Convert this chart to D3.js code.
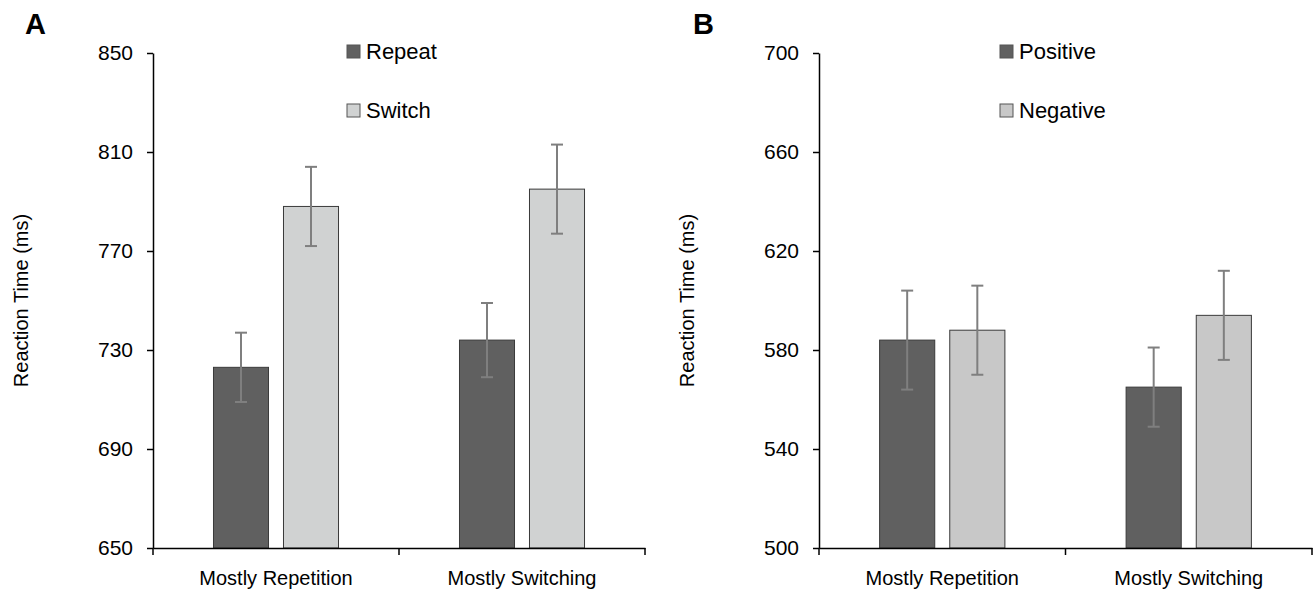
<!DOCTYPE html>
<meta charset="utf-8">
<script src="https://d3js.org/d3.v7.min.js"></script>
<style>
  body { margin: 0; background: #fff; }
  text { font-family: "Liberation Sans", Arial, sans-serif; fill: #000; }
</style>
<div id="my_dataviz"></div>
<script>

// categories and series
var categories = ["Mostly Repetition", "Mostly Switching"];

// panel A: task repeat / switch
var seriesA = ["Repeat", "Switch"];
var repeatMeans = [723, 734];
var repeatErr = [14, 15];
var switchMeans = [788, 795];
var switchErr = [16, 18];
var ticksA = [650, 690, 730, 770, 810, 850];

// panel B: positive / negative
var seriesB = ["Positive", "Negative"];
var positiveMeans = [584, 565];
var positiveErr = [20, 16];
var negativeMeans = [588, 594];
var negativeErr = [18, 18];
var ticksB = [500, 540, 580, 620, 660, 700];

var width = 1314, height = 594;
var top_y = 53, bottom_y = 548;

var svg = d3.select("#my_dataviz")
  .append("svg")
  .attr("width", width)
  .attr("height", height);

function panel(opt) {
  var g = svg.append("g");

  var y = d3.scaleLinear()
    .domain([opt.ticks[0], opt.ticks[opt.ticks.length - 1]])
    .range([bottom_y, top_y]);

  var x = d3.scaleBand()
    .domain(categories)
    .range([opt.left, opt.right])
    .padding(0);

  var xs = d3.scaleBand()
    .domain(opt.series)
    .range([0, x.bandwidth()])
    .paddingInner(0.214)
    .paddingOuter(0.864);

  var color = d3.scaleOrdinal()
    .domain(opt.series)
    .range(opt.colors);

  // flatten to one row per bar
  var rows = [];
  categories.forEach(function(c, i) {
    opt.series.forEach(function(s, j) {
      rows.push({cat: c, key: s, value: opt.means[j][i], err: opt.errs[j][i]});
    });
  });

  // bars
  g.selectAll(".bar")
    .data(rows)
    .enter()
    .append("rect")
    .attr("x", function(d) { return x(d.cat) + xs(d.key); })
    .attr("y", function(d) { return y(d.value); })
    .attr("width", xs.bandwidth())
    .attr("height", function(d) { return y(y.domain()[0]) - y(d.value); })
    .attr("fill", function(d) { return color(d.key); })
    .attr("stroke", "#3a3a3a")
    .attr("stroke-width", 1);

  // error bars
  var eb = g.selectAll(".err")
    .data(rows)
    .enter()
    .append("g")
    .attr("stroke", "#7f7f7f")
    .attr("stroke-width", 2);
  var cx = function(d) { return x(d.cat) + xs(d.key) + xs.bandwidth() / 2; };
  eb.append("line")
    .attr("x1", cx).attr("x2", cx)
    .attr("y1", function(d) { return y(d.value + d.err); })
    .attr("y2", function(d) { return y(d.value - d.err); });
  eb.append("line")
    .attr("x1", function(d) { return cx(d) - 6; }).attr("x2", function(d) { return cx(d) + 6; })
    .attr("y1", function(d) { return y(d.value + d.err); })
    .attr("y2", function(d) { return y(d.value + d.err); });
  eb.append("line")
    .attr("x1", function(d) { return cx(d) - 6; }).attr("x2", function(d) { return cx(d) + 6; })
    .attr("y1", function(d) { return y(d.value - d.err); })
    .attr("y2", function(d) { return y(d.value - d.err); });

  // y axis
  var ya = g.append("g")
    .attr("transform", "translate(" + opt.left + ",0)")
    .call(d3.axisLeft(y).tickValues(opt.ticks).tickSize(6).tickPadding(14).tickSizeOuter(0));
  ya.select(".domain").attr("stroke", "#000").attr("stroke-width", 1.5);
  ya.selectAll(".tick line").attr("stroke", "#000").attr("stroke-width", 1.5);
  ya.selectAll("text").style("font-size", "21px").style("font-family", "Liberation Sans, Arial, sans-serif");

  // x axis: line, ticks at group edges, labels at centres
  var xa = g.append("g")
    .attr("transform", "translate(0," + bottom_y + ")")
    .call(d3.axisBottom(x).tickSize(0).tickPadding(23));
  xa.select(".domain").attr("stroke", "#000").attr("stroke-width", 1.5);
  xa.selectAll("text").style("font-size", "20px").style("font-family", "Liberation Sans, Arial, sans-serif");
  var edges = d3.range(categories.length + 1).map(function(i) { return x.range()[0] + i * x.step(); });
  xa.selectAll(".edge")
    .data(edges)
    .enter()
    .append("line")
    .attr("x1", function(d) { return d; }).attr("x2", function(d) { return d; })
    .attr("y1", 0).attr("y2", 7)
    .attr("stroke", "#000").attr("stroke-width", 1.5);

  // y title
  g.append("text")
    .attr("transform", "translate(" + opt.titleX + "," + ((top_y + bottom_y) / 2) + ") rotate(-90)")
    .attr("text-anchor", "middle")
    .attr("dy", "0.35em")
    .style("font-size", "20px")
    .text("Reaction Time (ms)");

  // panel letter
  g.append("text")
    .attr("x", opt.letterX)
    .attr("y", 34)
    .style("font-size", "29px")
    .style("font-weight", "bold")
    .text(opt.letter);

  // legend
  var legend = g.selectAll(".legend")
    .data(opt.series)
    .enter()
    .append("g")
    .attr("transform", function(d, i) { return "translate(" + opt.legendX + "," + (45 + i * 59) + ")"; });
  legend.append("rect")
    .attr("width", 13)
    .attr("height", 13)
    .attr("fill", color)
    .attr("stroke", "#555");
  legend.append("text")
    .attr("x", 19)
    .attr("y", 14)
    .style("font-size", "22px")
    .text(function(d) { return d; });
}

panel({
  letter: "A", letterX: 25, titleX: 21, legendX: 347,
  left: 153, right: 645, ticks: ticksA, series: seriesA,
  means: [repeatMeans, switchMeans], errs: [repeatErr, switchErr],
  colors: ["#606060", "#d0d2d2"]
});

panel({
  letter: "B", letterX: 693, titleX: 687, legendX: 1000,
  left: 819, right: 1312, ticks: ticksB, series: seriesB,
  means: [positiveMeans, negativeMeans], errs: [positiveErr, negativeErr],
  colors: ["#606060", "#c8c8c8"]
});

</script>
